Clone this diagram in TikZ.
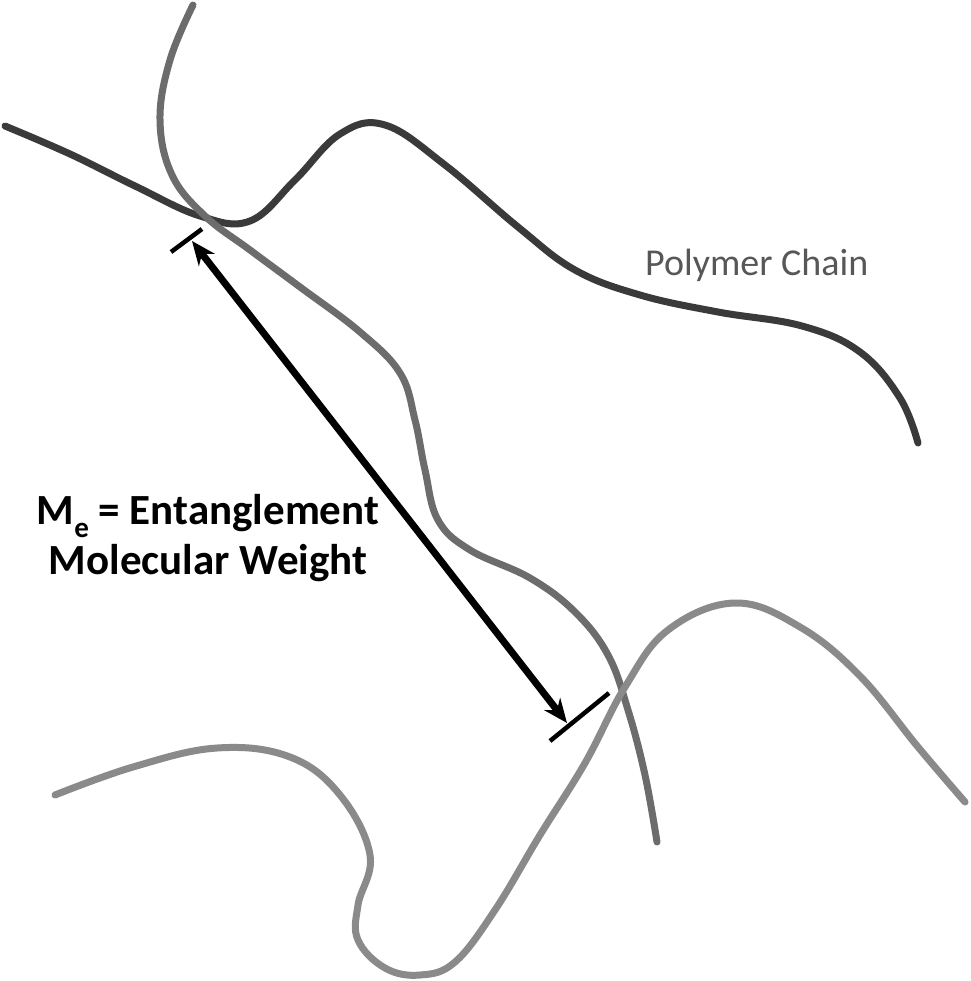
\documentclass[tikz,border=0pt]{standalone}
\usepackage{fontspec}
\setmainfont{Carlito}
\usetikzlibrary{arrows.meta, positioning}

\definecolor{chaindark}{HTML}{3A3A3A}
\definecolor{chainmid}{HTML}{6C6C6C}
\definecolor{chainlight}{HTML}{8A8A8A}

\begin{document}
\begin{tikzpicture}[
    x=1pt, y=-1pt, >={Stealth[length=24pt, width=20pt]},
    chain/.style={line width=7pt, line cap=round},
    tickbar/.style={line width=4.5pt, black},
    measure/.style={<->, line width=7pt, black},
    melabel/.style={inner sep=0pt, font=\fontsize{43}{50}\selectfont\bfseries}
  ]
  \useasboundingbox (0,0) rectangle (970,981);

  % the three chains
  \draw[chain, chaindark] plot[smooth, tension=0.65] coordinates {
    (5,126) (70,154) (135,186) (200,216) (250,221) (295,180) (340,134)
    (385,125) (445,165) (518,227) (575,270) (640,295) (718,312) (802,326)
    (860,352) (900,398) (918,443)};
  \draw[chain, chainmid] plot[smooth, tension=0.65] coordinates {
    (193,5) (170,60) (160,120) (172,175) (205,216) (250,250) (300,287)
    (360,332) (400,373) (415,420) (425,470) (438,520) (470,550) (530,578)
    (575,612) (608,655) (628,710) (645,775) (657,842)};
  \draw[chain, chainlight] plot[smooth, tension=0.65] coordinates {
    (55,795) (133,767) (217,748) (290,757) (340,795) (370,855) (358,905)
    (358,940) (385,968) (420,975) (455,962) (495,910) (540,835) (585,763)
    (625,687) (668,630) (735,603) (800,627) (860,676) (918,747) (965,802)};

  % distance between the entanglements
  \coordinate (tbarA) at (171,252);
  \coordinate (tbarB) at (202,229);
  \coordinate (bbarA) at (550,741);
  \coordinate (bbarB) at (609,693);
  \coordinate (etop) at (192,241);
  \coordinate (ebot) at (567,723);
  \draw[tickbar] (tbarA) -- (tbarB);
  \draw[tickbar] (bbarA) -- (bbarB);
  \draw[measure] (etop) -- (ebot);

  \node[melabel, align=center] (me) at (208,538)
    {M\raisebox{-0.3em}{\fontsize{29}{29}\selectfont e} = Entanglement\\Molecular Weight};
  \node[inner sep=0pt, anchor=base west, text=chaindark!85,
        font=\fontsize{38}{44}\selectfont] (chainlbl) at (645,276) {Polymer Chain};
\end{tikzpicture}
\end{document}
